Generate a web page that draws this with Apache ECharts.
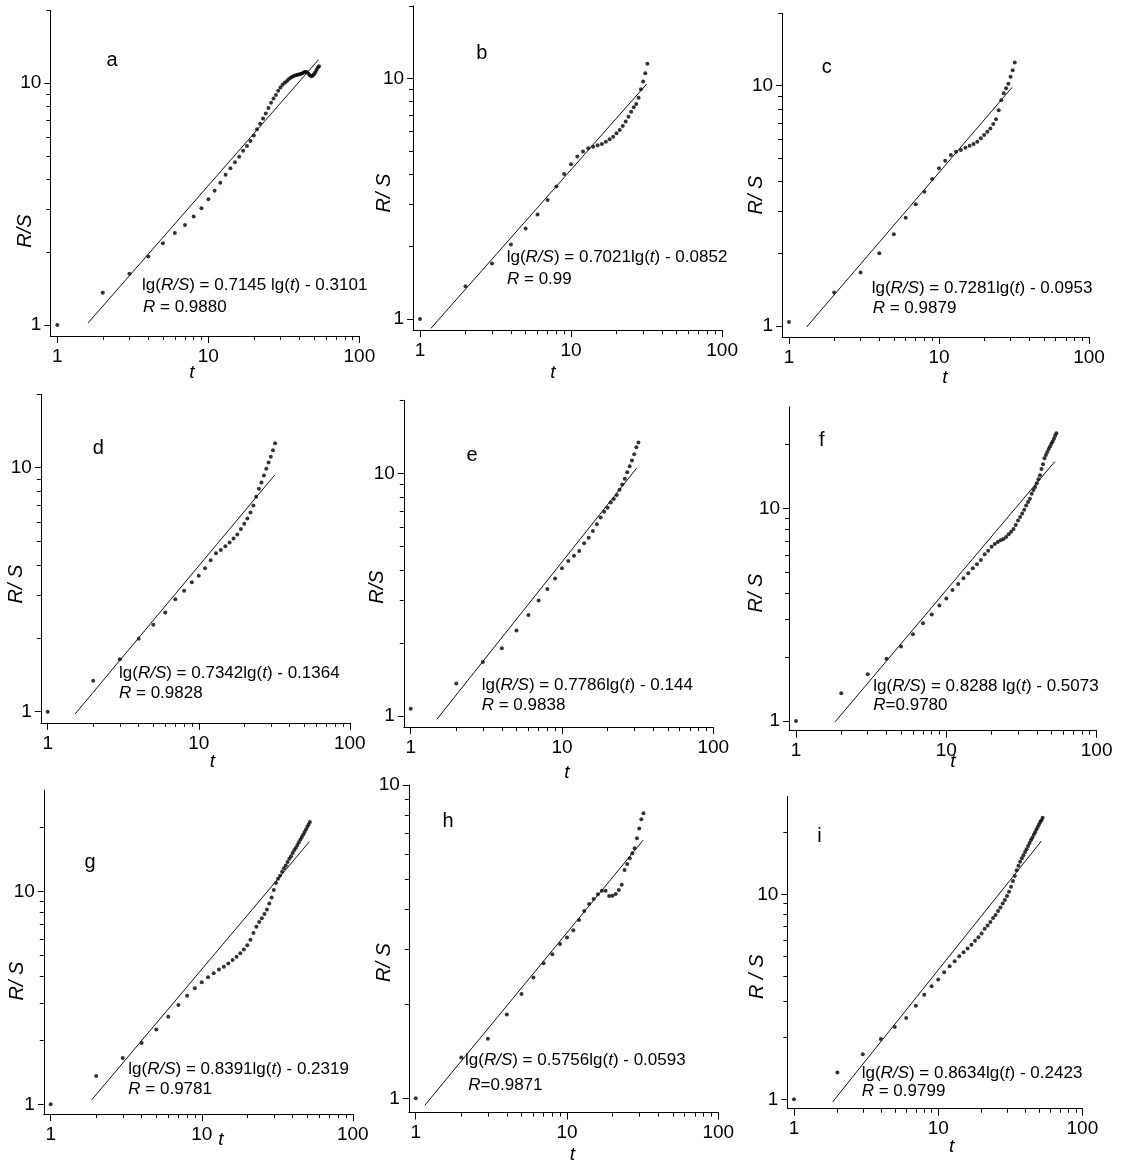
<!DOCTYPE html>
<html><head><meta charset="utf-8">
<script src="https://cdn.jsdelivr.net/npm/echarts@6/dist/echarts.min.js"></script>
<style>html,body{margin:0;padding:0;background:#fff}#c{width:1123px;height:1164px}</style>
</head><body><div id="c"></div>
<script>
// ---------------- data ----------------
const tSeq = [1,2,3,4,5,6,7,8,9,10,11,12,13,14,15,16,17,18,19,20,21,22,23,24,25,26,27,28,29,30,31,32,33,34,35,36,37,38,39,40,41,42,43,44,45,46,47,48,49,50,51,52,53,54];

const rsA = [1.00,1.36,1.63,1.92,2.18,2.40,2.59,2.81,3.04,3.31,3.59,3.88,4.18,4.45,4.71,4.97,5.26,5.50,5.77,6.08,6.45,6.80,7.15,7.50,7.90,8.30,8.65,8.95,9.30,9.60,9.85,10.05,10.20,10.40,10.55,10.65,10.75,10.80,10.85,10.90,10.95,11.00,11.10,11.15,11.10,10.95,10.80,10.70,10.75,10.90,11.10,11.35,11.60,11.75];
const rsB = [1.00,1.37,1.70,2.04,2.38,2.72,3.12,3.55,4.00,4.40,4.73,4.96,5.12,5.20,5.27,5.34,5.45,5.58,5.72,5.91,6.10,6.34,6.61,6.93,7.27,7.58,7.82,8.30,9.00,9.70,10.50,11.50];
const rsC = [1.04,1.38,1.67,2.01,2.41,2.82,3.21,3.62,4.09,4.53,4.87,5.15,5.31,5.40,5.52,5.63,5.72,5.85,6.04,6.24,6.44,6.64,6.93,7.25,7.90,8.70,9.30,9.75,10.20,10.90,11.60,12.50];
const rsD = [1.00,1.34,1.64,1.99,2.27,2.55,2.89,3.13,3.39,3.61,3.87,4.18,4.46,4.60,4.77,4.94,5.13,5.33,5.61,5.90,6.20,6.55,7.00,7.60,8.20,8.70,9.30,9.90,10.50,11.10,11.80,12.60];
const rsE = [1.07,1.36,1.67,1.90,2.25,2.61,2.99,3.34,3.69,4.06,4.35,4.58,4.79,5.15,5.43,5.79,6.17,6.57,6.95,7.22,7.59,7.84,8.14,8.55,9.00,9.50,10.10,10.70,11.30,12.00,12.80,13.40];
const rsF = [1.00,1.35,1.66,1.96,2.24,2.56,2.88,3.17,3.49,3.77,4.13,4.41,4.69,4.95,5.22,5.45,5.72,6.08,6.32,6.60,6.80,6.95,7.08,7.18,7.33,7.55,7.75,8.00,8.35,8.75,9.10,9.45,9.85,10.30,10.70,11.10,11.70,12.20,12.60,13.10,13.70,14.30,15.30,16.10,17.20,17.80,18.40,19.00,19.50,20.10,20.60,21.20,21.90,22.50];
const rsG = [1.00,1.36,1.65,1.94,2.25,2.58,2.93,3.24,3.51,3.75,3.96,4.13,4.31,4.44,4.60,4.77,4.95,5.13,5.35,5.60,5.95,6.40,6.85,7.20,7.50,7.85,8.25,8.80,9.40,10.20,11.00,11.50,11.90,12.40,12.90,13.30,13.80,14.30,14.70,15.20,15.70,16.10,16.60,17.10,17.60,18.10,18.60,19.10,19.60,20.20,20.70,21.30];
const rsH = [1.00,1.35,1.55,1.85,2.15,2.43,2.70,2.88,3.11,3.26,3.44,3.71,3.96,4.17,4.33,4.48,4.60,4.60,4.42,4.43,4.49,4.62,4.80,5.35,5.60,5.84,6.05,6.28,6.76,7.27,7.77,8.13];
const rsI = [1.00,1.35,1.66,1.97,2.25,2.49,2.86,3.24,3.56,3.84,4.17,4.46,4.72,4.99,5.22,5.44,5.67,5.93,6.18,6.44,6.79,7.05,7.32,7.66,7.92,8.28,8.63,9.03,9.38,9.81,10.30,10.90,11.60,12.30,13.10,13.80,14.40,15.00,15.50,16.10,16.60,17.20,17.80,18.40,18.90,19.50,20.10,20.70,21.30,21.90,22.50,23.00,23.60];

// fitted lines: [t, R/S] end points
const fitA = [[1.60,1.02],[53.5,12.5]];
const fitB = [[1.18,0.915],[31.7,9.47]];
const fitC = [[1.31,0.99],[30.7,9.84]];
const fitD = [[1.52,0.98],[31.8,9.33]];
const fitE = [[1.49,0.97],[31.1,10.5]];
const fitF = [[1.82,0.99],[52.8,16.6]];
const fitG = [[1.87,1.05],[51.6,17.2]];
const fitH = [[1.15,0.95],[31.9,6.67]];
const fitI = [[1.85,0.97],[52.0,18.2]];

const panelLetters = ['a','b','c','d','e','f','g','h','i'];
const eqTexts = [
  'lg(*R/S*) = 0.7145 lg(*t*) - 0.3101',
  'lg(*R/S*) = 0.7021lg(*t*) - 0.0852',
  'lg(*R/S*) = 0.7281lg(*t*) - 0.0953',
  'lg(*R/S*) = 0.7342lg(*t*) - 0.1364',
  'lg(*R/S*) = 0.7786lg(*t*) - 0.144',
  'lg(*R/S*) = 0.8288 lg(*t*) - 0.5073',
  'lg(*R/S*) = 0.8391lg(*t*) - 0.2319',
  'lg(*R/S*) = 0.5756lg(*t*) - 0.0593',
  'lg(*R/S*) = 0.8634lg(*t*) - 0.2423'
];
const rTexts = ['*R* = 0.9880','*R* = 0.99','*R* = 0.9879','*R* = 0.9828','*R* = 0.9838','*R*=0.9780','*R* = 0.9781','*R*=0.9871','*R* = 0.9799'];
const yNames = ['R/S','R/ S','R/ S','R/ S','R/S','R/ S','R/ S','R/ S','R / S'];
const xName = 't';

const xLabelValues = [1, 10, 100];
const xMinorValues = [2,3,4,5,6,7,8,9,20,30,40,50,60,70,80,90];
const yLabelValues = [1, 10];
const yMinorValues = [2,3,4,5,6,7,8,9,20];
const xMin = 0.9, xMax = 100, yMin = 0.9;
const yMaxes = [20,20,20,20,20,30,30,10,30];

const rsAll = [rsA,rsB,rsC,rsD,rsE,rsF,rsG,rsH,rsI];
const fitAll = [fitA,fitB,fitC,fitD,fitE,fitF,fitG,fitH,fitI];

// ---------------- layout ----------------
const layout = [
  {box:[50.4,10.5,309,325.5],  letter:[112,60.5],  eq:[142,285],     r:[143,307],     yName:[25,231],     xName:[192,373]},
  {box:[413.1,5.8,309,324.3],  letter:[481.7,53],  eq:[506.7,257],   r:[507,279],     yName:[384,193],    xName:[553,373]},
  {box:[782.1,13.4,306.9,323.6],letter:[826.7,67.5],eq:[871.7,288],  r:[872.7,308],   yName:[756,195],    xName:[945,378]},
  {box:[40.8,394.3,309,328.6], letter:[98.3,448.3],eq:[119,673.3],   r:[119,693.3],   yName:[16.7,584],   xName:[212.5,762]},
  {box:[403.8,400.3,309.5,326.8],letter:[472,455.5],eq:[481.7,685],  r:[481.7,705],   yName:[377,587],    xName:[567,773]},
  {box:[789.1,406.8,307.5,323.9],letter:[821.7,440],eq:[873.3,686.7],r:[873.3,705],   yName:[756.7,593],  xName:[953,762]},
  {box:[43.8,790.3,309,323.7], letter:[90,862],    eq:[128.3,1069],  r:[128.3,1089],  yName:[17,981],     xName:[221,1140]},
  {box:[408.8,785,309.5,327.6],letter:[448,821],   eq:[465,1060],    r:[468.3,1085],  yName:[384,962.5],  xName:[572.5,1155]},
  {box:[787.4,796.5,295,312.2],letter:[819.5,836], eq:[861.7,1073.3],r:[861.7,1091.7],yName:[757.5,976.7],xName:[951.7,1146.7]}
];

const FONT = '"Liberation Sans", Arial, Helvetica, sans-serif';
const INK = '#000';

function toRich(s) {
  return s.split('*').map((part, idx) => part ? '{' + (idx % 2 ? 'i' : 'n') + '|' + part + '}' : '').join('');
}
const richStyles = (size) => ({
  n: {fontSize: size, fontFamily: FONT, fill: INK},
  i: {fontSize: size, fontFamily: FONT, fill: INK, fontStyle: 'italic'}
});

const grids = [], xAxes = [], yAxes = [], series = [], graphics = [];

layout.forEach((L, k) => {
  const yMax = yMaxes[k];
  grids.push({left: L.box[0], top: L.box[1], width: L.box[2], height: L.box[3], containLabel: false});

  const commonX = {type: 'log', logBase: 10, gridIndex: k, min: xMin, max: xMax, position: 'bottom',
    splitLine: {show: false}, minorTick: {show: false}, minorSplitLine: {show: false}};
  xAxes.push(Object.assign({}, commonX, {
    axisLine: {show: true, onZero: false, lineStyle: {color: INK, width: 1}},
    axisTick: {show: true, length: 7, customValues: xLabelValues, lineStyle: {color: INK, width: 1}},
    axisLabel: {show: true, customValues: xLabelValues, formatter: v => String(Math.round(v)), margin: 11,
      fontSize: 19, fontFamily: FONT, color: INK}
  }));
  xAxes.push(Object.assign({}, commonX, {
    axisLine: {show: false, onZero: false},
    axisTick: {show: true, length: 4, customValues: xMinorValues, lineStyle: {color: INK, width: 1}},
    axisLabel: {show: false}
  }));

  const commonY = {type: 'log', logBase: 10, gridIndex: k, min: yMin, max: yMax, position: 'left',
    splitLine: {show: false}, minorTick: {show: false}, minorSplitLine: {show: false}};
  yAxes.push(Object.assign({}, commonY, {
    axisLine: {show: true, onZero: false, lineStyle: {color: INK, width: 1}},
    axisTick: {show: true, length: 6, customValues: yLabelValues, lineStyle: {color: INK, width: 1}},
    axisLabel: {show: true, customValues: yLabelValues, formatter: v => String(Math.round(v)), margin: 9,
      fontSize: 19, fontFamily: FONT, color: INK}
  }));
  yAxes.push(Object.assign({}, commonY, {
    axisLine: {show: false, onZero: false},
    axisTick: {show: true, length: 4, customValues: yMinorValues.filter(v => v <= yMax), lineStyle: {color: INK, width: 1}},
    axisLabel: {show: false}
  }));

  const rs = rsAll[k];
  series.push({
    type: 'scatter', xAxisIndex: 2 * k, yAxisIndex: 2 * k,
    symbol: 'circle', symbolSize: 4, itemStyle: {color: INK},
    data: rs.map((v, j) => [tSeq[j], v]), silent: true
  });
  series.push({
    type: 'line', xAxisIndex: 2 * k, yAxisIndex: 2 * k, showSymbol: false, symbol: 'none',
    lineStyle: {color: '#111', width: 1}, data: fitAll[k], silent: true
  });

  graphics.push({type: 'text', x: L.letter[0], y: L.letter[1],
    style: {text: panelLetters[k], fontSize: 20, fontFamily: FONT, fill: INK, align: 'center', verticalAlign: 'middle'}});
  graphics.push({type: 'text', x: L.eq[0], y: L.eq[1],
    style: {text: toRich(eqTexts[k]), rich: richStyles(17), fontSize: 17, fontFamily: FONT, fill: INK, align: 'left', verticalAlign: 'middle'}});
  graphics.push({type: 'text', x: L.r[0], y: L.r[1],
    style: {text: toRich(rTexts[k]), rich: richStyles(17), fontSize: 17, fontFamily: FONT, fill: INK, align: 'left', verticalAlign: 'middle'}});
  graphics.push({type: 'text', x: L.yName[0], y: L.yName[1], rotation: Math.PI / 2,
    style: {text: yNames[k], fontSize: 20, fontStyle: 'italic', fontFamily: FONT, fill: INK, align: 'center', verticalAlign: 'middle'}});
  graphics.push({type: 'text', x: L.xName[0], y: L.xName[1],
    style: {text: xName, fontSize: 19, fontStyle: 'italic', fontFamily: FONT, fill: INK, align: 'center', verticalAlign: 'middle'}});
});

const chart = echarts.init(document.getElementById('c'), null, {renderer: 'canvas'});
chart.setOption({
  backgroundColor: '#fff',
  animation: false,
  grid: grids, xAxis: xAxes, yAxis: yAxes, series: series,
  graphic: {elements: graphics}
});
</script>
</body></html>
